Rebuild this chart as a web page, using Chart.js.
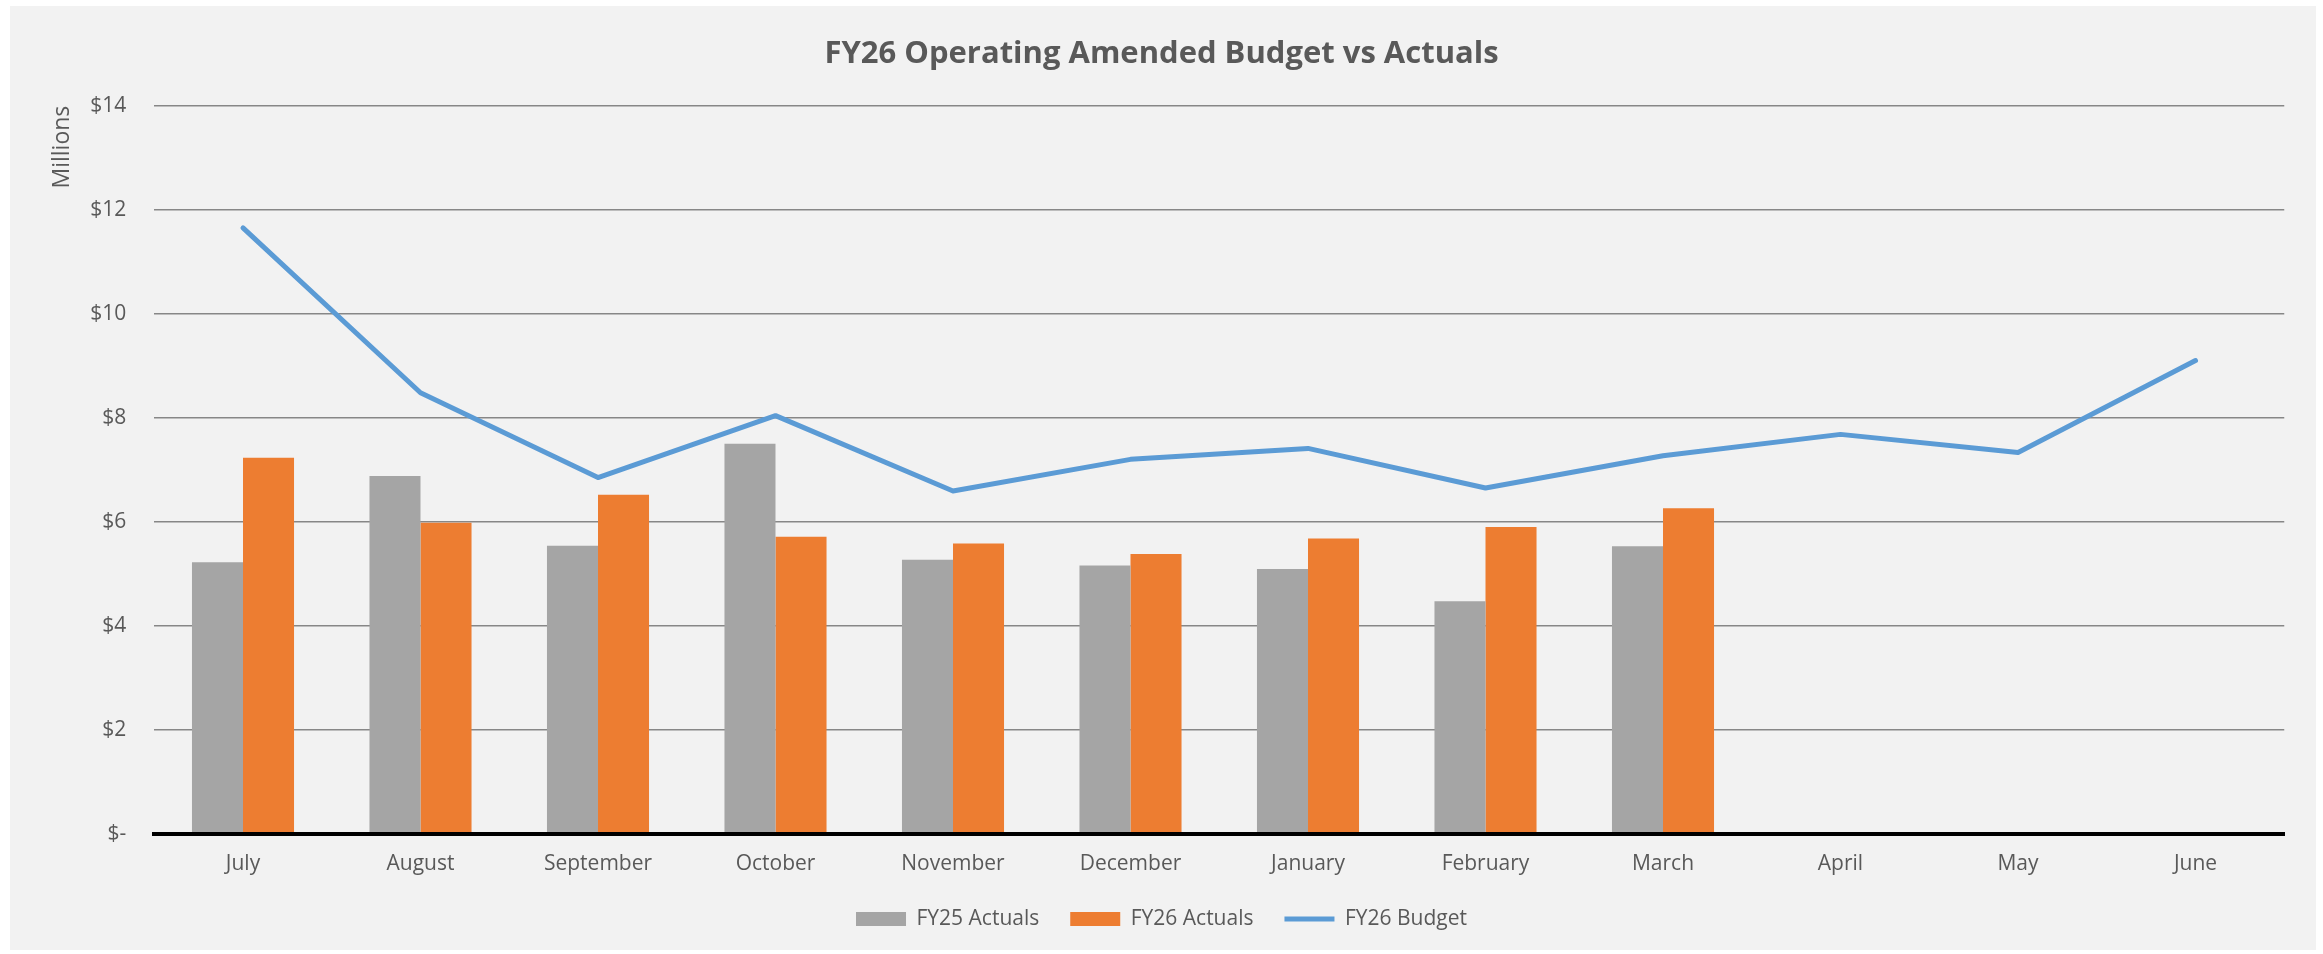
<!DOCTYPE html>
<html>
<head>
<meta charset="utf-8">
<script src="https://cdn.jsdelivr.net/npm/chart.js@4.4.1/dist/chart.umd.min.js"></script>
<style>
  html, body { margin: 0; padding: 0; background: #fff; }
  #wrap { width: 2323px; height: 954px; }
</style>
</head>
<body>
<div id="wrap"><canvas id="chart" width="2323" height="954"></canvas></div>
<script>
const months = ["July", "August", "September", "October", "November", "December",
  "January", "February", "March", "April", "May", "June"];
const fy25Actuals = [5.22, 6.88, 5.54, 7.50, 5.27, 5.16, 5.09, 4.47, 5.53];
const fy26Actuals = [7.23, 5.98, 6.52, 5.71, 5.58, 5.38, 5.68, 5.90, 6.26];
const fy26Budget = [11.65, 8.48, 6.85, 8.04, 6.59, 7.20, 7.41, 6.65, 7.27, 7.68, 7.33, 9.10];
const yTicks = [0, 2, 4, 6, 8, 10, 12, 14];

const textColor = "#595959";

// grey panel behind the chart
const panelBg = {
  id: "panelBg",
  beforeDraw(chart) {
    const ctx = chart.ctx;
    ctx.save();
    ctx.fillStyle = "#ffffff";
    ctx.fillRect(0, 0, chart.width, chart.height);
    ctx.fillStyle = "#F2F2F2";
    ctx.fillRect(10, 6, 2306, 944);
    ctx.restore();
  }
};

const ctx = document.getElementById("chart").getContext("2d");
new Chart(ctx, {
  type: "bar",
  data: {
    labels: months,
    datasets: [
      {
        label: "FY25 Actuals",
        data: fy25Actuals,
        backgroundColor: "#A5A5A5",
        borderWidth: 0,
        pointStyle: "rect",
        order: 1
      },
      {
        label: "FY26 Actuals",
        data: fy26Actuals,
        backgroundColor: "#ED7D31",
        borderWidth: 0,
        pointStyle: "rect",
        order: 1
      },
      {
        type: "line",
        label: "FY26 Budget",
        data: fy26Budget,
        borderColor: "#5B9BD5",
        backgroundColor: "#5B9BD5",
        borderWidth: 5,
        borderCapStyle: "round",
        borderJoinStyle: "round",
        pointRadius: 0,
        pointHoverRadius: 0,
        pointStyle: "line",
        tension: 0,
        order: 0
      }
    ]
  },
  options: {
    responsive: false,
    devicePixelRatio: 1,
    animation: false,
    layout: {
      padding: { left: 0, right: 0, top: 0, bottom: 14.5 }
    },
    datasets: {
      bar: { categoryPercentage: 0.575, barPercentage: 1 }
    },
    plugins: {
      title: {
        display: true,
        text: "FY26 Operating Amended Budget vs Actuals",
        color: textColor,
        font: { family: "Open Sans", size: 31, weight: "bold" },
        padding: { top: 35.4, bottom: 33.1 }
      },
      legend: {
        position: "bottom",
        labels: {
          usePointStyle: true,
          pointStyleWidth: 50,
          boxHeight: 14,
          padding: 31,
          color: textColor,
          font: { family: "Open Sans", size: 21 },
          sort: (a, b) => a.datasetIndex - b.datasetIndex
        }
      },
      tooltip: { enabled: false }
    },
    scales: {
      x: {
        grid: { display: false, drawTicks: false },
        border: { display: true, color: "#000000", width: 4, z: 1 },
        ticks: {
          color: textColor,
          font: { family: "Open Sans", size: 21 },
          padding: 18,
          maxRotation: 0,
          autoSkip: false
        },
        afterFit(scale) { scale.height = 43.7; }
      },
      y: {
        min: 0,
        max: 14,
        afterBuildTicks(scale) {
          scale.ticks = yTicks.map(v => ({ value: v }));
        },
        grid: { color: "#878787", lineWidth: 1.5, drawTicks: false },
        border: { display: false },
        ticks: {
          color: textColor,
          font: { family: "Open Sans", size: 21 },
          padding: 28,
          callback: v => (v === 0 ? "$-" : "$" + v)
        },
        title: {
          display: true,
          text: "Millions",
          align: "end",
          color: textColor,
          font: { family: "Open Sans", size: 23 },
          padding: { top: 49, bottom: 0 }
        },
        afterFit(scale) { scale.width = 154.25; }
      },
      // empty right-hand axis: only reserves the right margin so title and legend stay centred on the page
      yRight: {
        type: "linear",
        position: "right",
        grid: { display: false, drawTicks: false },
        border: { display: false },
        ticks: { display: false },
        afterFit(scale) { scale.width = 38.75; }
      }
    }
  },
  plugins: [panelBg]
});
</script>
</body>
</html>
